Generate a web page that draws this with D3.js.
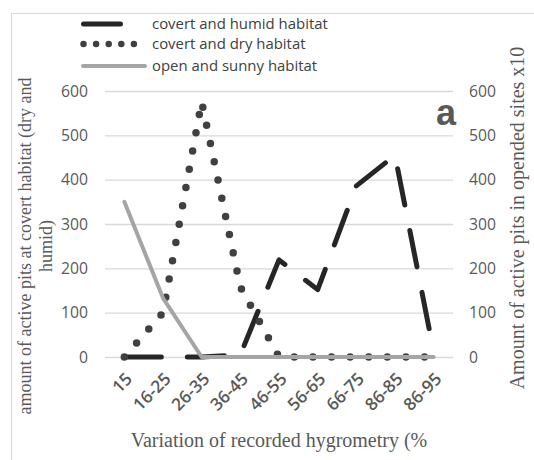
<!DOCTYPE html>
<html>
<head>
<meta charset="utf-8">
<script src="https://cdn.jsdelivr.net/npm/d3@7"></script>
<style>
  html, body { margin: 0; padding: 0; background: #fff; }
  svg { display: block; }
</style>
</head>
<body>
<svg id="chart" width="534" height="460"></svg>
<script>
// ---- data ----
const categories = ["15", "16-25", "26-35", "36-45", "46-55", "56-65", "66-75", "86-85", "86-95"];
const humidValues = [0, 0, 0, 5, 219, 152, 386, 455, 12];     // left axis
const dryValues   = [0, 100, 576, 158, 0, 0, 0, 0, 0];        // left axis
const openValues  = [350, 133, 0, 0, 0, 0, 0, 0, 0];          // right axis (x10)
const yTicks = [0, 100, 200, 300, 400, 500, 600];
const seriesNames = ["covert and humid habitat", "covert and dry habitat", "open and sunny habitat"];
const xTitle = "Variation of recorded hygrometry (%";
const yTitleLines = ["amount of active pits at covert habitat (dry and", "humid)"];
const y2Title = "Amount of active pits in opended sites x10";
const panelLabel = "a";

// ---- layout ----
const svg = d3.select("#chart");
const W = 534, H = 460;
const plot = { left: 105, right: 453, top: 91, bottom: 357 };
const sans = "'Open Sans', 'Noto Sans', sans-serif";
const serif = "'Liberation Serif', 'Times New Roman', 'DejaVu Serif', serif";
const textGray = "#595959";

// scale a text selection's font-size so that the reference element reaches target width
function fitFont(sel, refNode, target, base) {
  const w = refNode.getComputedTextLength();
  const fs = w > 0 ? base * target / w : base;
  sel.attr("font-size", fs);
  return fs;
}

svg.append("rect").attr("width", W).attr("height", H).attr("fill", "#fff");
svg.append("rect").attr("x", 11.5).attr("y", 13.5).attr("width", 530).attr("height", 460)
  .attr("fill", "none").attr("stroke", "#d9d9d9").attr("stroke-width", 1);

const x = d3.scaleBand().domain(categories).range([plot.left, plot.right]).padding(0);
const cx = d => x(d) + x.bandwidth() / 2;
const y = d3.scaleLinear().domain([0, 600]).range([plot.bottom, plot.top]);
const y2 = d3.scaleLinear().domain([0, 600]).range([plot.bottom, plot.top]);

// gridlines
const grid = svg.append("g").attr("transform", `translate(${plot.left},0)`)
  .call(d3.axisLeft(y).tickValues(yTicks).tickSize(-(plot.right - plot.left)).tickFormat(""));
grid.select(".domain").remove();
grid.selectAll("line").attr("stroke", "#d9d9d9").attr("stroke-width", 1.3);

// left axis labels
const yAx = svg.append("g").attr("transform", `translate(${plot.left},0)`)
  .call(d3.axisLeft(y).tickValues(yTicks).tickSize(0).tickPadding(17));
yAx.select(".domain").remove();
const yLab = yAx.selectAll("text").attr("font-family", sans).attr("font-size", 15).attr("fill", textGray);

// right axis labels
const y2Ax = svg.append("g").attr("transform", `translate(${plot.right},0)`)
  .call(d3.axisRight(y2).tickValues(yTicks).tickSize(0).tickPadding(16));
y2Ax.select(".domain").remove();
const y2Lab = y2Ax.selectAll("text").attr("font-family", sans).attr("font-size", 15).attr("fill", textGray);
const numFs = fitFont(yLab, yLab.nodes()[yLab.size() - 1], 27, 15);
y2Lab.attr("font-size", numFs);

// x axis labels
const xAx = svg.append("g").attr("transform", `translate(0,${plot.bottom})`)
  .call(d3.axisBottom(x).tickSize(0).tickPadding(0));
xAx.select(".domain").remove();
const xLab = xAx.selectAll("text")
  .attr("font-family", sans).attr("font-size", 14).attr("font-weight", 600).attr("fill", textGray)
  .attr("text-anchor", "end")
  .attr("dy", null).attr("y", null)
  .attr("transform", "translate(9,23) rotate(-45)");
fitFont(xLab, xLab.nodes()[1], 45, 14);

// series lines
const line = (vals, scale) => d3.line()
  .x((d, i) => cx(categories[i]))
  .y(d => scale(d))(vals);

svg.append("path").attr("d", line(humidValues, y))
  .attr("fill", "none").attr("stroke", "#262626").attr("stroke-width", 5)
  .attr("stroke-linecap", "round").attr("stroke-linejoin", "round")
  .attr("stroke-dasharray", "37,26");

svg.append("path").attr("d", line(dryValues, y))
  .attr("fill", "none").attr("stroke", "#404040").attr("stroke-width", 7.5)
  .attr("stroke-linecap", "round").attr("stroke-linejoin", "round")
  .attr("stroke-dasharray", "0,18.6");

svg.append("path").attr("d", line(openValues, y2))
  .attr("fill", "none").attr("stroke", "#a5a5a5").attr("stroke-width", 4)
  .attr("stroke-linecap", "round").attr("stroke-linejoin", "round");

// panel label
svg.append("text").attr("x", 456).attr("y", 125).attr("text-anchor", "end")
  .attr("font-family", "Arial, 'Liberation Sans', sans-serif").attr("font-weight", "bold")
  .attr("font-size", 36).attr("fill", textGray).text(panelLabel);

// axis titles
svg.append("text").attr("x", 279).attr("y", 447).attr("text-anchor", "middle")
  .attr("font-family", serif).attr("font-size", 20).attr("fill", textGray).text(xTitle);

const yT = svg.append("text").attr("transform", "translate(25,246) rotate(-90)")
  .attr("text-anchor", "middle").attr("font-family", serif).attr("font-size", 18).attr("fill", textGray);
yTitleLines.forEach((t, i) => {
  yT.append("tspan").attr("x", 0).attr("y", i * 21).attr("dy", "0.32em").text(t);
});

svg.append("text").attr("transform", "translate(518,218) rotate(-90)")
  .attr("text-anchor", "middle").attr("dy", "0.32em")
  .attr("font-family", serif).attr("font-size", 20).attr("fill", textGray).text(y2Title);

// legend
const legendRows = [24, 44, 66];
const lg = svg.append("g");
lg.append("line").attr("x1", 83.5).attr("x2", 146).attr("y1", legendRows[0]).attr("y2", legendRows[0])
  .attr("stroke", "#262626").attr("stroke-width", 5).attr("stroke-linecap", "round")
  .attr("stroke-dasharray", "37,26");
lg.append("line").attr("x1", 83.5).attr("x2", 140).attr("y1", legendRows[1]).attr("y2", legendRows[1])
  .attr("stroke", "#404040").attr("stroke-width", 6.5).attr("stroke-linecap", "round")
  .attr("stroke-dasharray", "0,12.6");
lg.append("line").attr("x1", 83).attr("x2", 145).attr("y1", legendRows[2]).attr("y2", legendRows[2])
  .attr("stroke", "#a5a5a5").attr("stroke-width", 4).attr("stroke-linecap", "round");
const lgText = lg.selectAll("text.lg").data(seriesNames).join("text").attr("class", "lg")
  .attr("x", 152).attr("y", (d, i) => legendRows[i]).attr("dy", "0.35em")
  .attr("font-family", sans).attr("font-size", 14).attr("fill", "#404040").text(d => d);
fitFont(lgText, lgText.nodes()[0], 176, 14);
</script>
</body>
</html>
